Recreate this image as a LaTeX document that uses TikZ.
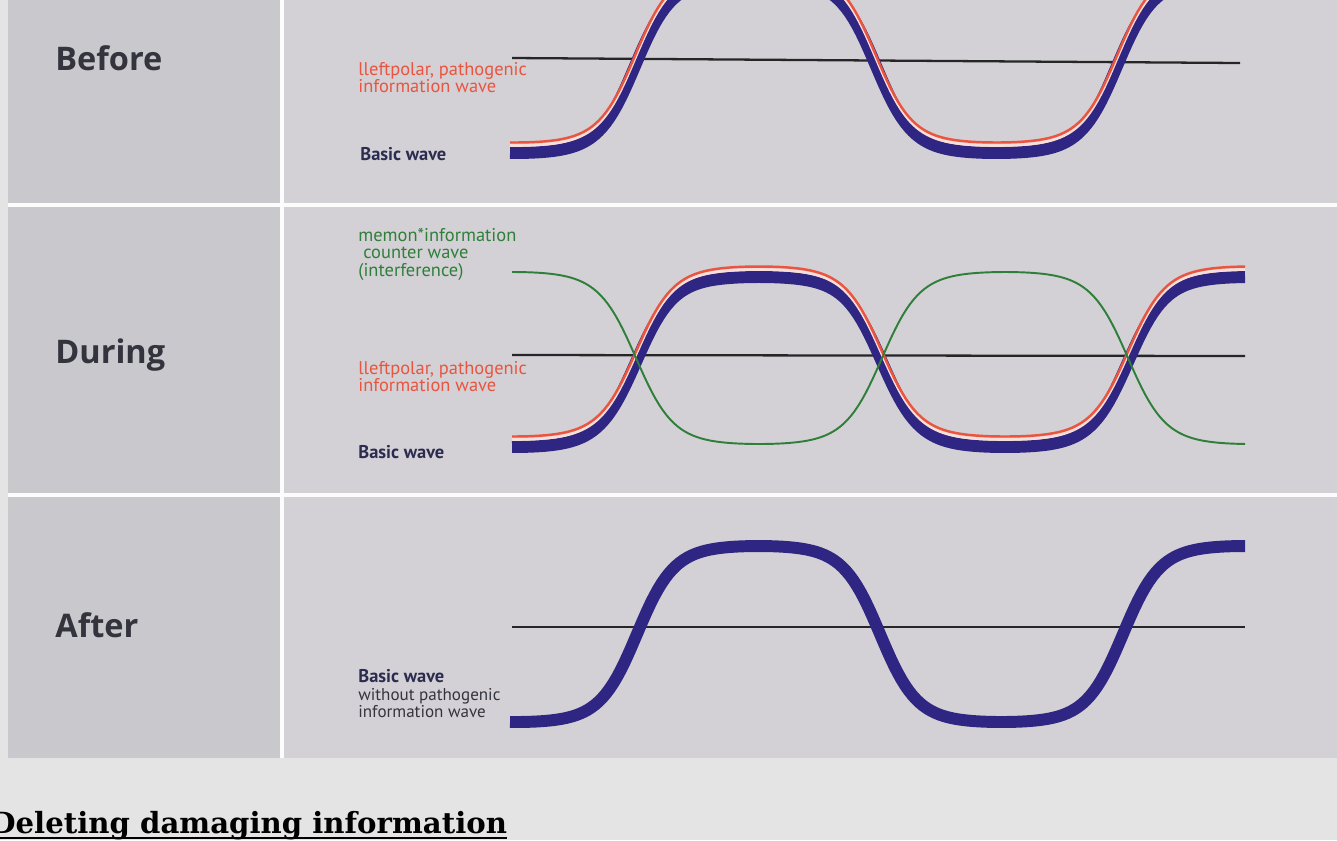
\documentclass[tikz,border=0pt]{standalone}
\usepackage{fontspec}
\setmainfont{Open Sans}
\newfontfamily\lblfont{PT Sans}
\newfontfamily\capfont{DejaVu Serif}
\usetikzlibrary{calc}

\definecolor{pagebg}{HTML}{E4E4E4}
\definecolor{photo}{HTML}{D3D1D5}
\definecolor{leftcol}{HTML}{C9C8CC}
\definecolor{basicblue}{HTML}{2E2682}
\definecolor{pathred}{HTML}{E9553F}
\definecolor{countergreen}{HTML}{2F7F3A}
\definecolor{labelgray}{HTML}{33343D}
\definecolor{basictext}{HTML}{2B2C50}

\begin{document}
\begin{tikzpicture}[
    x=0.02cm, y=-0.02cm,
    declare function={wv(\pa,\pb,\pc)=tanh(2*sin((\pa-\pb)/\pc*180))/tanh(2);},
    panel/.style={font=\fontsize{18.5}{20}\selectfont\bfseries, text=labelgray, anchor=base west, inner sep=0pt},
    lbl/.style={font=\lblfont\fontsize{10.5}{9.9}\selectfont, align=left, anchor=north west, inner sep=0pt},
    basic/.style={draw=basicblue, line width=6.8pt},
    gap/.style={draw=white!80!pathred, line width=1.5pt},
    patho/.style={draw=pathred, line width=1.4pt},
    counter/.style={draw=countergreen, line width=1.1pt},
    axis/.style={draw=black!85, line width=1.3pt},
    divider/.style={draw=white!94!photo, line width=2.8pt}
]
  % Page and photo
  \useasboundingbox (0,0) rectangle (1337,840);
  \fill[pagebg] (0,0) rectangle (1337,840);
  \fill[photo] (8,0) rectangle (1337,758);
  \fill[leftcol] (8,0) rectangle (282,758);
  \draw[divider] (282,0) -- (282,758);
  \draw[divider] (8,205) -- (1337,205);
  \draw[divider] (8,495) -- (1337,495);

  % Before
  \node[panel] (before) at (55,70) {Before};
  \draw[axis] (512,58) -- (1240,63);
  \begin{scope}
    \clip (8,0) rectangle (1337,205);
    \draw[basic] plot[domain=510:1245, samples=200] (\x,{66-87*wv(\x,635,241)});
    \draw[gap] plot[domain=510:1245, samples=200] (\x,{58.5-87*wv(\x,635,241)});
    \draw[patho] plot[domain=510:1245, samples=200] (\x,{55.5-87*wv(\x,635,241)});
  \end{scope}
  \node[lbl, text=pathred] (beforepatho) at (358,62) {lleftpolar, pathogenic\\information wave};
  \node[lbl, text=basictext, font=\lblfont\bfseries\fontsize{10.5}{9.9}\selectfont] (beforebasic) at (360,147) {Basic wave};

  % During
  \node[panel] (during) at (55,363) {During};
  \draw[axis] (512,355) -- (1245,356);
  \draw[basic] plot[domain=512:1245, samples=200] (\x,{362-85*wv(\x,636,246)});
  \draw[gap] plot[domain=512:1245, samples=200] (\x,{354.5-85*wv(\x,636,246)});
  \draw[patho] plot[domain=512:1245, samples=200] (\x,{351.5-85*wv(\x,636,246)});
  \draw[counter] plot[domain=512:1245, samples=200] (\x,{358+86*wv(\x,636,246)});
  \node[lbl, text=countergreen] (duringcounter) at (358,228) {memon*information\\\ counter wave\\(interference)};
  \node[lbl, text=pathred] (duringpatho) at (358,361) {lleftpolar, pathogenic\\information wave};
  \node[lbl, text=basictext, font=\lblfont\bfseries\fontsize{10.5}{9.9}\selectfont] (duringbasic) at (358,445) {Basic wave};

  % After
  \node[panel] (after) at (55,637) {After};
  \draw[axis] (512,627) -- (1245,627);
  \draw[basic] plot[domain=510:1245, samples=200] (\x,{634-88*wv(\x,637,243)});
  \node[lbl, text=basictext, font=\lblfont\bfseries\fontsize{10.5}{9.9}\selectfont] (afterbasic) at (358,669) {Basic wave};
  \node[lbl, text=labelgray, font=\lblfont\fontsize{9.7}{9.9}\selectfont] (afternote) at (358,688) {without pathogenic\\information wave};

  % Caption
  \node[font=\capfont\bfseries\fontsize{16.6}{20}\selectfont, anchor=base west, inner sep=0pt] (caption) at (-10,833) {Deleting damaging information};
  \draw[line width=1.2pt] ($(caption.base west)+(0,5)$) -- ($(caption.base east)+(0,5)$);
\end{tikzpicture}
\end{document}
